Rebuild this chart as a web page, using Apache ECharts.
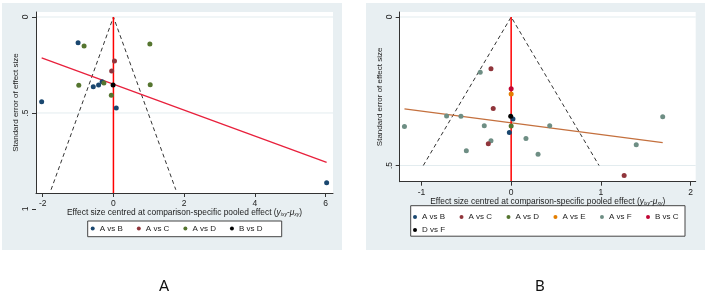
<!DOCTYPE html>
<html><head><meta charset="utf-8">
<script src="https://cdn.jsdelivr.net/npm/echarts@6/dist/echarts.min.js"></script>
<style>html,body{margin:0;padding:0;background:#fff}#c{width:708px;height:298px}</style>
</head><body><div id="c"></div>
<script>
// ---------- DATA ----------
// Panel A
const A_legend = ['A vs B', 'A vs C', 'A vs D', 'B vs D'];
const A_AvsB_x  = [-1.0, -2.03, -0.57, -0.42, -0.32, 0.08, 6.03];
const A_AvsB_se = [0.134, 0.441, 0.363, 0.354, 0.337, 0.474, 0.863];
const A_AvsC_x  = [0.03, -0.05];
const A_AvsC_se = [0.229, 0.281];
const A_AvsD_x  = [-0.83, 1.03, -0.98, -0.27, 1.04, -0.06];
const A_AvsD_se = [0.151, 0.141, 0.356, 0.344, 0.353, 0.408];
const A_BvsD_x  = [-0.01];
const A_BvsD_se = [0.354];
const A_fit_x   = [-2.03, 6.03];
const A_fit_se  = [0.2135, 0.757];
const A_funnelSE = 0.9;
const A_xTicks = [-2, 0, 2, 4, 6];
const A_yTicks = [0, 0.5];
const A_yTicksExtra = [1];

// Panel B
const B_legendRow1 = ['A vs B', 'A vs C', 'A vs D', 'A vs E', 'A vs F', 'B vs C'];
const B_legendRow2 = ['D vs F'];
const B_AvsB_x  = [0.02, -0.02];
const B_AvsB_se = [0.343, 0.389];
const B_AvsC_x  = [-0.225, -0.20, -0.255, 1.26];
const B_AvsC_se = [0.174, 0.308, 0.427, 0.534];
const B_AvsD_x  = [0.0];
const B_AvsD_se = [0.367];
const B_AvsE_x  = [0.0];
const B_AvsE_se = [0.259];
const B_AvsF_x  = [-0.345, -0.72, -0.56, -1.19, -0.30, 0.43, 1.69, 0.165, -0.225, 1.395, -0.50, 0.30];
const B_AvsF_se = [0.186, 0.333, 0.334, 0.369, 0.366, 0.366, 0.336, 0.409, 0.417, 0.430, 0.450, 0.462];
const B_BvsC_x  = [0.0];
const B_BvsC_se = [0.242];
const B_DvsF_x  = [-0.005];
const B_DvsF_se = [0.334];
const B_fit_x   = [-1.19, 1.69];
const B_fit_se  = [0.309, 0.423];
const B_funnelSE = 0.5;
const B_xTicks = [-1, 0, 1, 2];
const B_yTicks = [0, 0.5];

const Z = 1.96;
const panelLabels = ['A', 'B'];

// ---------- STYLE ----------
const FONT = 'Liberation Sans';
const COL = {
  'A vs B': '#1a476f', 'A vs C': '#90353b', 'A vs D': '#55752f', 'B vs D': '#000000',
  'A vs E': '#e37e00', 'A vs F': '#6e8e84', 'B vs C': '#c10534', 'D vs F': '#000000'
};
const BG = '#e8eff2';
const AXC = '#333333';
const GRIDC = '#e3ecef';

const chart = echarts.init(document.getElementById('c'), null, {renderer: 'canvas'});

const G = {
  A: {left: 36, top: 12, width: 297, height: 181, xmin: -2.19, xmax: 6.21, ymin: -0.026, ymax: 0.917},
  B: {left: 399.7, top: 12, width: 296, height: 169.7, xmin: -1.243, xmax: 2.058, ymin: -0.0168, ymax: 0.5545}
};

function pairs(xs, ys) { return xs.map((x, i) => [x, ys[i]]); }
function yfmt(v) { return v === 0 ? '0' : String(v).replace(/^0/, ''); }

function scatter(name, xs, ys, gi) {
  return {type: 'scatter', name, xAxisIndex: gi, yAxisIndex: gi, data: pairs(xs, ys),
    symbol: 'circle', symbolSize: 5, itemStyle: {color: COL[name], opacity: 1}, z: 5, silent: true};
}
function line(data, gi, color, width, type, z) {
  return {type: 'line', xAxisIndex: gi, yAxisIndex: gi, data, symbol: 'none', silent: true,
    lineStyle: {color, width, type, opacity: 1}, z: z || 3, animation: false};
}
function gridLines(g, gi, ticks) {
  return ticks.map(v => line([[g.xmin, v], [g.xmax, v]], gi, GRIDC, 1, 'solid', 2));
}
function xName() {
  return 'Effect size centred at comparison-specific pooled effect ({i|y}{sub|ixy}-{i|μ}{sub|xy})';
}
const nameStyle = {
  fontSize: 8.4, fontFamily: FONT, color: '#222',
  rich: {
    i: {fontSize: 8.4, fontFamily: FONT, fontStyle: 'italic', color: '#222'},
    sub: {fontSize: 5, fontFamily: FONT, fontStyle: 'italic', color: '#222', padding: [4, 0, 0, 0]}
  }
};
const yLabelStyle = {rotate: 90, margin: 6, align: 'center', verticalAlign: 'bottom',
  fontSize: 8.5, fontFamily: FONT, color: '#222', formatter: yfmt};

function xAxis(g, gi, ticks) {
  return {type: 'value', gridIndex: gi, min: g.xmin, max: g.xmax, z: 6,
    axisLine: {show: true, onZero: false, lineStyle: {color: AXC, width: 1}},
    axisTick: {show: true, length: 4, customValues: ticks, lineStyle: {color: AXC}},
    axisLabel: {show: true, customValues: ticks, margin: 6, fontSize: 8.5, fontFamily: FONT, color: '#222'},
    splitLine: {show: false},
    name: xName(), nameLocation: 'middle', nameGap: 15, nameMoveOverlap: false, nameTextStyle: nameStyle};
}
function yAxis(g, gi, ticks) {
  return {type: 'value', gridIndex: gi, min: g.ymin, max: g.ymax, inverse: true, z: 6,
    axisLine: {show: true, onZero: false, lineStyle: {color: AXC, width: 1}},
    axisTick: {show: true, length: 4, customValues: ticks, lineStyle: {color: AXC}},
    axisLabel: Object.assign({show: true, customValues: ticks}, yLabelStyle),
    splitLine: {show: false},
    name: 'Standard error of effect size', nameLocation: 'middle', nameGap: 16, nameMoveOverlap: false,
    nameTextStyle: {fontSize: 8, fontFamily: FONT, color: '#222'}};
}

const series = [];
// grid lines at the y tick values
series.push(...gridLines(G.A, 0, A_yTicks));
series.push(...gridLines(G.B, 1, B_yTicks));

// Panel A lines
series.push(line([[-Z * A_funnelSE, A_funnelSE], [0, 0], [Z * A_funnelSE, A_funnelSE]], 0, '#333', 1, [4, 3]));
series.push(line([[0, 0], [0, G.A.ymax]], 0, '#ff0000', 1.5, 'solid', 4));
series.push(line(pairs(A_fit_x, A_fit_se), 0, '#e8203c', 1.3, 'solid'));
// Panel A points
series.push(scatter('A vs B', A_AvsB_x, A_AvsB_se, 0));
series.push(scatter('A vs C', A_AvsC_x, A_AvsC_se, 0));
series.push(scatter('A vs D', A_AvsD_x, A_AvsD_se, 0));
series.push(scatter('B vs D', A_BvsD_x, A_BvsD_se, 0));

// Panel B lines
series.push(line([[-Z * B_funnelSE, B_funnelSE], [0, 0], [Z * B_funnelSE, B_funnelSE]], 1, '#333', 1, [4, 3]));
series.push(line([[0, 0], [0, G.B.ymax]], 1, '#ff0000', 1.5, 'solid', 4));
series.push(line(pairs(B_fit_x, B_fit_se), 1, '#c4703e', 1.3, 'solid'));
// Panel B points
series.push(scatter('A vs F', B_AvsF_x, B_AvsF_se, 1));
series.push(scatter('A vs C', B_AvsC_x, B_AvsC_se, 1));
series.push(scatter('A vs B', B_AvsB_x, B_AvsB_se, 1));
series.push(scatter('A vs D', B_AvsD_x, B_AvsD_se, 1));
series.push(scatter('A vs E', B_AvsE_x, B_AvsE_se, 1));
series.push(scatter('B vs C', B_BvsC_x, B_BvsC_se, 1));
series.push(scatter('D vs F', B_DvsF_x, B_DvsF_se, 1));

const legendBase = {orient: 'horizontal', icon: 'circle', itemWidth: 4, itemHeight: 4, padding: 0, z: 8,
  selectedMode: false, textStyle: {fontSize: 8, fontFamily: FONT, color: '#222'}};

const option = {
  animation: false,
  backgroundColor: '#ffffff',
  grid: [
    {left: G.A.left, top: G.A.top, width: G.A.width, height: G.A.height, show: false},
    {left: G.B.left, top: G.B.top, width: G.B.width, height: G.B.height, show: false},
    // helper grid so the out-of-range "1" label of panel A sits where the source puts it
    {left: G.A.left, top: G.A.top, width: G.A.width, height: 197, show: false}
  ],
  xAxis: [
    xAxis(G.A, 0, A_xTicks),
    xAxis(G.B, 1, B_xTicks),
    {type: 'value', gridIndex: 2, show: false, min: 0, max: 1}
  ],
  yAxis: [
    yAxis(G.A, 0, A_yTicks),
    yAxis(G.B, 1, B_yTicks),
    {type: 'value', gridIndex: 2, min: G.A.ymin, max: 1, inverse: true, z: 6,
      axisLine: {show: false},
      axisTick: {show: true, length: 4, customValues: A_yTicksExtra, lineStyle: {color: AXC}},
      axisLabel: Object.assign({show: true, customValues: A_yTicksExtra}, yLabelStyle),
      splitLine: {show: false}}
  ],
  legend: [
    Object.assign({}, legendBase, {data: A_legend, left: 90.7, top: 224.5, itemGap: 14}),
    Object.assign({}, legendBase, {data: B_legendRow1, left: 413, top: 213, itemGap: 14.4}),
    Object.assign({}, legendBase, {data: B_legendRow2, left: 413, top: 226, itemGap: 14.4})
  ],
  graphic: [
    {type: 'rect', z: 0, silent: true, shape: {x: 2, y: 3, width: 340, height: 247}, style: {fill: BG}},
    {type: 'rect', z: 0, silent: true, shape: {x: 366, y: 3, width: 339, height: 247}, style: {fill: BG}},
    {type: 'rect', z: 1, silent: true, shape: {x: G.A.left, y: G.A.top, width: G.A.width, height: G.A.height}, style: {fill: '#fff'}},
    {type: 'rect', z: 1, silent: true, shape: {x: G.B.left, y: G.B.top, width: G.B.width, height: G.B.height}, style: {fill: '#fff'}},
    {type: 'rect', z: 1, silent: true, shape: {x: 87.7, y: 221, width: 194, height: 15.7}, style: {fill: '#fff', stroke: '#444', lineWidth: 1}},
    {type: 'rect', z: 1, silent: true, shape: {x: 410.7, y: 205.7, width: 274.3, height: 30.5}, style: {fill: '#fff', stroke: '#444', lineWidth: 1}},
    {type: 'text', z: 10, left: 159, top: 279, style: {text: panelLabels[0], fontSize: 15, fontFamily: 'Lato', fill: '#111'}},
    {type: 'text', z: 10, left: 535, top: 279, style: {text: panelLabels[1], fontSize: 15, fontFamily: 'Lato', fill: '#111'}}
  ],
  series
};
chart.setOption(option);
</script></body></html>
